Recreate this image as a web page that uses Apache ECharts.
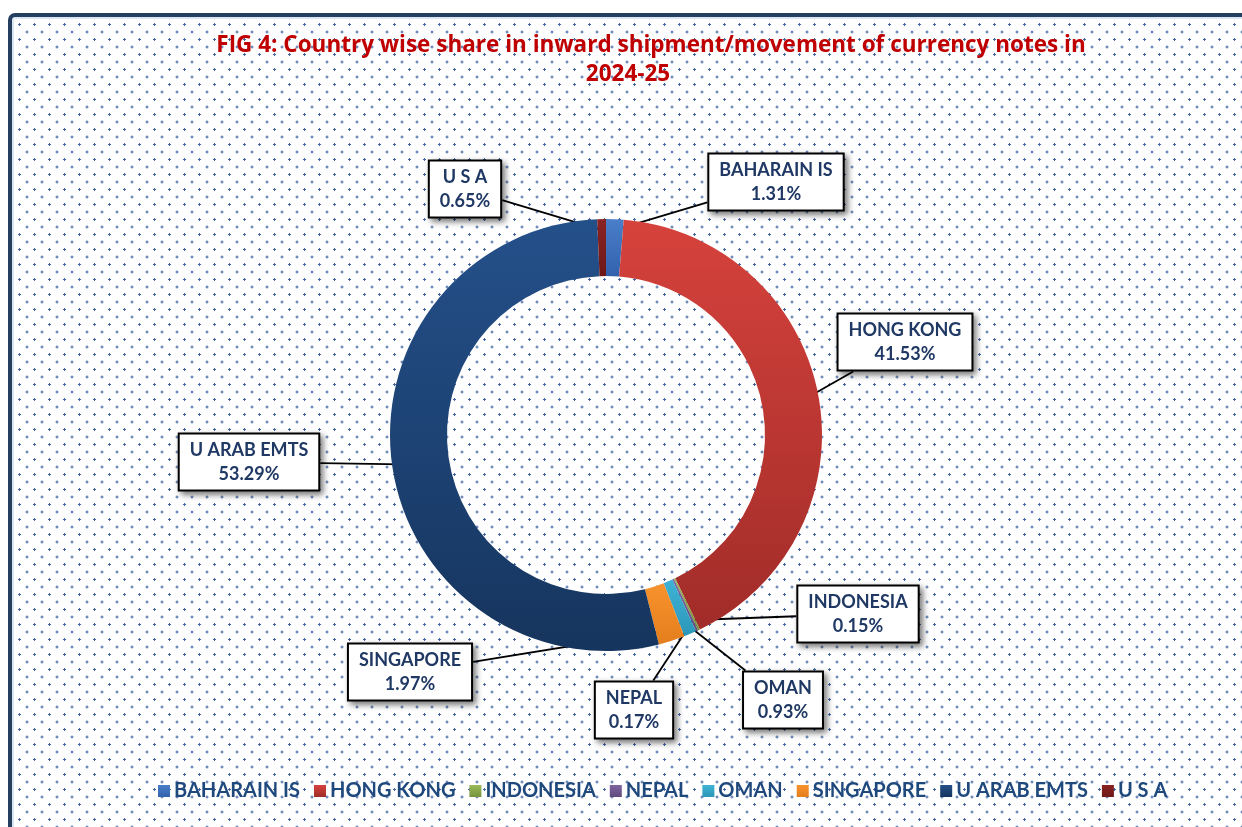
<!DOCTYPE html>
<html>
<head>
<meta charset="utf-8">
<script src="https://cdn.jsdelivr.net/npm/echarts@6/dist/echarts.min.js"></script>
<style>
  html, body { margin: 0; padding: 0; background: #fff; }
  #frame {
    position: absolute; left: 8px; top: 13px; width: 1260px; height: 840px;
    border: 4px solid #243F60; border-radius: 7px 0 0 0;
    box-shadow: inset 0 0 0 2px #DCE6F2;
    background-color: #fff;
    background-image:
      radial-gradient(circle, rgba(47,85,151,0.9) 1px, transparent 1.4px),
      radial-gradient(circle, rgba(47,85,151,0.9) 1px, transparent 1.4px);
    background-size: 15px 15px;
    background-position: 0 0, 7.5px 7.5px;
  }
  #pie { position: absolute; left: 0; top: 0; width: 1242px; height: 827px; }
</style>
</head>
<body>
<div id="frame"></div>
<div id="pie"></div>
<script>
// data
var countries = ['BAHARAIN IS', 'HONG KONG', 'INDONESIA', 'NEPAL', 'OMAN', 'SINGAPORE', 'U ARAB EMTS', 'U S A'];
var shares = [1.31, 41.53, 0.15, 0.17, 0.93, 1.97, 53.29, 0.65];

// slice colours (top / bottom of the shading)
var colorTop = ['#4A7EC9', '#D6423C', '#9BBB59', '#8064A2', '#3FB3D5', '#F7932F', '#24508A', '#8B2323'];
var colorBottom = ['#3262AD', '#A12C29', '#76933C', '#604A7B', '#2B96B8', '#E57E1C', '#16355E', '#6E1818'];

// where each callout box sits
var labelAt = {
    'BAHARAIN IS': [776, 182],
    'HONG KONG': [905, 342],
    'INDONESIA': [858, 614],
    'NEPAL': [634, 710],
    'OMAN': [783, 700],
    'SINGAPORE': [410, 672],
    'U ARAB EMTS': [249, 462],
    'U S A': [465, 189]
};

var cx = 606, cy = 435;
var total = shares.reduce(function (a, b) { return a + b; }, 0);

var myChart = echarts.init(document.getElementById('pie'));

var seriesData = countries.map(function (name, i) {
    return {
        name: name,
        value: shares[i],
        itemStyle: {
            color: {
                type: 'linear', x: 0, y: 0, x2: 0, y2: 1,
                colorStops: [
                    {offset: 0, color: colorTop[i]},
                    {offset: 1, color: colorBottom[i]}
                ]
            }
        }
    };
});

// tip of the callout: at the middle angle of the slice
function tipOf(idx) {
    var before = 0;
    for (var i = 0; i < idx; i++) before += shares[i];
    var a = 2 * Math.PI * (before + shares[idx] / 2) / total;
    var r = 205;
    return [cx + r * Math.sin(a), cy - r * Math.cos(a)];
}

var option = {
    backgroundColor: 'transparent',
    graphic: [
        {
            type: 'text', x: 651, y: 46,
            style: {
                text: 'FIG 4: Country wise share in inward shipment/movement of currency notes in',
                fill: '#C00000', font: 'bold 22.5px "Open Sans"', align: 'center', verticalAlign: 'middle'
            }
        },
        {
            type: 'text', x: 628, y: 75,
            style: {
                text: '2024-25',
                fill: '#C00000', font: 'bold 22.5px "Open Sans"', align: 'center', verticalAlign: 'middle'
            }
        }
    ],
    legend: {
        data: countries,
        left: 153,
        top: 776,
        icon: 'rect',
        itemWidth: 12,
        itemHeight: 12,
        itemGap: 14,
        textStyle: {
            color: '#1F497D',
            fontFamily: 'Lato',
            fontWeight: 'bold',
            fontSize: 20,
            padding: [0, 0, 0, -1]
        }
    },
    series: [
        {
            name: 'share',
            type: 'pie',
            center: [cx, cy],
            radius: [159, 216],
            startAngle: 90,
            clockwise: true,
            avoidLabelOverlap: false,
            data: seriesData,
            label: {
                show: true,
                position: 'outside',
                formatter: '{b}\n{c}%',
                color: '#1F3864',
                fontFamily: 'Lato',
                fontWeight: 'bold',
                fontSize: 18,
                lineHeight: 24,
                align: 'center',
                backgroundColor: '#fff',
                borderColor: '#000',
                borderWidth: 2,
                padding: [4, 10, 3, 10],
                shadowColor: 'rgba(0,0,0,0.45)',
                shadowBlur: 6,
                shadowOffsetX: 3,
                shadowOffsetY: 3
            },
            labelLine: {
                show: true,
                length: 20,
                length2: 20,
                lineStyle: {color: '#000', width: 1.8}
            },
            emphasis: {scale: false},
            labelLayout: function (params) {
                var name = countries[params.dataIndex];
                var pos = labelAt[name];
                var w = params.labelRect.width, h = params.labelRect.height;
                var tip = tipOf(params.dataIndex);
                var dx = tip[0] - pos[0], dy = tip[1] - pos[1];
                var t = Math.min((w / 2) / Math.abs(dx || 1e-6), (h / 2) / Math.abs(dy || 1e-6));
                var base = [pos[0] + dx * t, pos[1] + dy * t];
                return {
                    x: pos[0],
                    y: pos[1],
                    align: 'center',
                    verticalAlign: 'middle',
                    labelLinePoints: [tip, base, base]
                };
            }
        }
    ]
};

myChart.setOption(option);
</script>
</body>
</html>
